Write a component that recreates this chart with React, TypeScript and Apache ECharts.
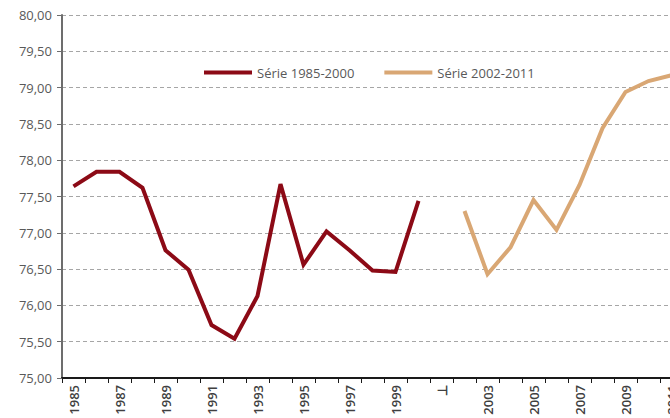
import React, { useEffect, useRef } from "react";
import * as echarts from "echarts";

const years = [
  "1985", "1986", "1987", "1988", "1989", "1990", "1991", "1992", "1993",
  "1994", "1995", "1996", "1997", "1998", "1999", "2000", "⊥", "2002",
  "2003", "2004", "2005", "2006", "2007", "2008", "2009", "2010", "2011",
];

const serie1985 = [
  77.64, 77.84, 77.84, 77.62, 76.76, 76.49, 75.73, 75.54, 76.13, 77.67,
  76.56, 77.02, 76.76, 76.48, 76.46, 77.44,
];

const serie2002 = [77.3, 76.43, 76.8, 77.45, 77.04, 77.66, 78.44, 78.94, 79.09, 79.17];

const series1Data = [...serie1985, ...Array(years.length - serie1985.length).fill(null)];
const series2Data = [...Array(years.length - serie2002.length).fill(null), ...serie2002];

const FONT = "Open Sans";

export default function App() {
  const ref = useRef<HTMLDivElement>(null);
  useEffect(() => {
    if (!ref.current) return;
    const chart = echarts.init(ref.current, null, { renderer: "svg" });
    chart.setOption({
      animation: false,
      backgroundColor: "#ffffff",
      legend: {
        top: 61,
        left: 199,
        icon: "rect",
        itemWidth: 48,
        itemHeight: 4,
        itemGap: 30,
        textStyle: { fontFamily: FONT, fontSize: 13, color: "#595959" },
        data: ["Série 1985-2000", "Série 2002-2011"],
      },
      grid: { left: 62, right: 7, top: 15, bottom: 40, containLabel: false },
      xAxis: {
        type: "category",
        data: years,
        boundaryGap: true,
        axisLine: { lineStyle: { color: "#1a1a1a", width: 2 } },
        axisTick: { show: true, interval: 0, length: 5, lineStyle: { color: "#1a1a1a", width: 1 } },
        axisLabel: {
          interval: 1,
          rotate: 90,
          margin: 7,
          fontFamily: FONT,
          fontSize: 13,
          fontWeight: 600,
          color: "#404040",
        },
        splitLine: { show: false },
      },
      yAxis: {
        type: "value",
        min: 75,
        max: 80,
        interval: 0.5,
        axisLine: { show: true, lineStyle: { color: "#6d6d6d", width: 2 } },
        axisTick: { show: true, length: 5, lineStyle: { color: "#6d6d6d", width: 1 } },
        axisLabel: {
          margin: 10,
          fontFamily: FONT,
          fontSize: 13,
          color: "#595959",
          formatter: (v: number) => v.toFixed(2).replace(".", ","),
        },
        splitLine: { show: true, lineStyle: { color: "#a6a6a6", type: [4, 3], width: 1 } },
      },
      series: [
        {
          name: "Série 1985-2000",
          type: "line",
          data: series1Data,
          showSymbol: false,
          symbol: "none",
          connectNulls: false,
          lineStyle: { color: "#8c0a16", width: 4, join: "miter" },
          itemStyle: { color: "#8c0a16" },
        },
        {
          name: "Série 2002-2011",
          type: "line",
          data: series2Data,
          showSymbol: false,
          symbol: "none",
          connectNulls: false,
          lineStyle: { color: "#d9a774", width: 4, join: "miter" },
          itemStyle: { color: "#d9a774" },
        },
      ],
    });
    return () => chart.dispose();
  }, []);
  return (
    <div
      ref={ref}
      style={{ width: 690, height: 418, position: "fixed", left: 0, top: 0 }}
    />
  );
}
